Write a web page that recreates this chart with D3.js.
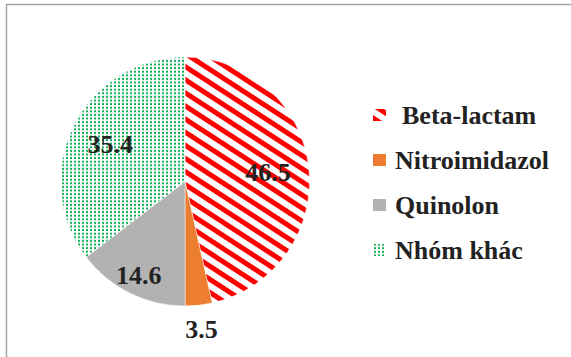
<!DOCTYPE html>
<html>
<head>
<meta charset="utf-8">
<script src="https://cdn.jsdelivr.net/npm/d3@7"></script>
<style>
  html, body { margin: 0; padding: 0; background: #fff; }
  svg { display: block; }
</style>
</head>
<body>
<svg id="chart" width="571" height="357"></svg>
<script>
// Antibiotic groups and their shares (%)
const categories = ["Beta-lactam", "Nitroimidazol", "Quinolon", "Nhóm khác"];
const values = [46.5, 3.5, 14.6, 35.4];
const valueLabels = ["46.5", "3.5", "14.6", "35.4"];

const W = 571, H = 357;
const svg = d3.select("#chart");
const defs = svg.append("defs");

// Red wide diagonal stripes
const stripe = defs.append("pattern")
  .attr("id", "stripes")
  .attr("patternUnits", "userSpaceOnUse")
  .attr("width", 20).attr("height", 11)
  .attr("patternTransform", "rotate(33)");
stripe.append("rect").attr("width", 20).attr("height", 11).attr("fill", "#fff");
stripe.append("rect").attr("y", 0).attr("width", 20).attr("height", 5).attr("fill", "#ff0000");

// Green dotted grid
const dots = defs.append("pattern")
  .attr("id", "dots")
  .attr("patternUnits", "userSpaceOnUse")
  .attr("width", 4).attr("height", 3.6);
dots.append("rect").attr("width", 4).attr("height", 3.6).attr("fill", "#fff");
dots.append("rect").attr("x", 1).attr("y", 0.8).attr("width", 2).attr("height", 2).attr("fill", "#12ad55");

const fills = ["url(#stripes)", "#ed7d31", "#b2b2b2", "url(#dots)"];
const color = d3.scaleOrdinal().domain(categories).range(fills);

// Chart frame (top and left edges visible)
svg.append("rect")
  .attr("x", 6.5).attr("y", 4.5)
  .attr("width", W + 20).attr("height", H + 20)
  .attr("fill", "none")
  .attr("stroke", "#a3a3a3")
  .attr("stroke-width", 1.4);

const cx = 185, cy = 181.5, r = 124.5;
const g = svg.append("g").attr("transform", `translate(${cx},${cy})`);

const pie = d3.pie().sort(null).value(d => d.value);
const data = categories.map((c, i) => ({ name: c, value: values[i], label: valueLabels[i] }));
const arcs = pie(data);
const arc = d3.arc().innerRadius(0).outerRadius(r);

g.selectAll("path.slice")
  .data(arcs)
  .enter().append("path")
  .attr("class", "slice")
  .attr("d", arc)
  .attr("fill", d => color(d.data.name))
  .attr("stroke", "#fff")
  .attr("stroke-width", 0.5);

// Best-fit label placement: tiny slices outside, narrow ones near the rim
function labelRadius(v) {
  if (v < 5) return r * 1.2;
  if (v < 20) return r * 0.84;
  return r * 0.67;
}

g.selectAll("text.val")
  .data(arcs)
  .enter().append("text")
  .attr("class", "val")
  .attr("transform", d => {
    const rr = labelRadius(d.data.value);
    const c = d3.arc().innerRadius(rr).outerRadius(rr).centroid(d);
    return `translate(${c[0]},${c[1]})`;
  })
  .attr("text-anchor", "middle")
  .attr("dominant-baseline", "central")
  .attr("font-family", "'Liberation Serif', 'Times New Roman', serif")
  .attr("font-weight", "bold")
  .attr("font-size", 26)
  .attr("fill", "#222")
  .text(d => d.data.label);

// Legend
const legend = svg.append("g").attr("transform", "translate(373,115)");
const items = legend.selectAll("g.item")
  .data(categories)
  .enter().append("g")
  .attr("class", "item")
  .attr("transform", (d, i) => `translate(0,${i * 45})`);

items.append("rect")
  .attr("x", 0).attr("y", -6)
  .attr("width", 13).attr("height", 12)
  .attr("fill", d => color(d));

items.append("text")
  .attr("x", (d, i) => i === 0 ? 29 : 22)
  .attr("y", 0)
  .attr("dominant-baseline", "central")
  .attr("font-family", "'Liberation Serif', 'Times New Roman', serif")
  .attr("font-weight", "bold")
  .attr("font-size", 26)
  .attr("fill", "#222")
  .text(d => d);
</script>
</body>
</html>
